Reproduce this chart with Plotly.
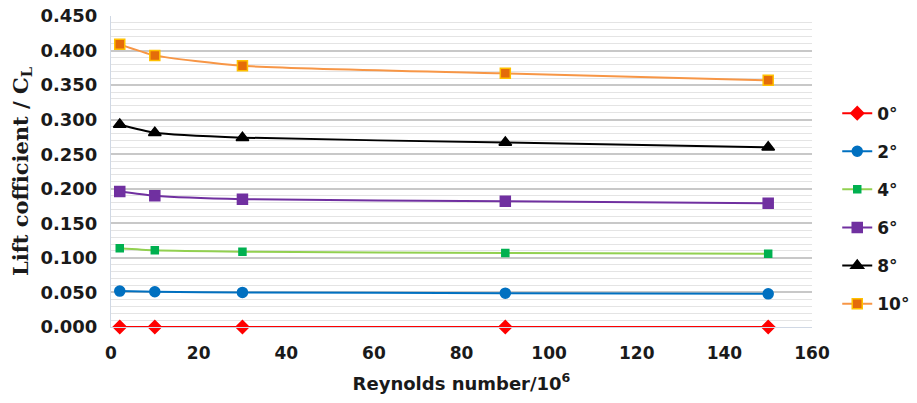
import plotly.graph_objects as go

reynolds = [2, 10, 30, 90, 150]
angles = ["0°", "2°", "4°", "6°", "8°", "10°"]
cl_0 = [0.000, 0.000, 0.000, 0.000, 0.000]
cl_2 = [0.052, 0.051, 0.050, 0.049, 0.048]
cl_4 = [0.114, 0.111, 0.109, 0.107, 0.106]
cl_6 = [0.196, 0.190, 0.185, 0.182, 0.179]
cl_8 = [0.293, 0.281, 0.274, 0.267, 0.260]
cl_10 = [0.409, 0.393, 0.378, 0.367, 0.357]
y_ticks = [0.0, 0.05, 0.1, 0.15, 0.2, 0.25, 0.3, 0.35, 0.4, 0.45]
x_ticks = [0, 20, 40, 60, 80, 100, 120, 140, 160]

series = [cl_0, cl_2, cl_4, cl_6, cl_8, cl_10]
styles = [
    dict(line="#FF0000", marker="#FF0000", symbol="diamond", size=10, mline="#FF0000"),
    dict(line="#0070C0", marker="#0070C0", symbol="circle", size=10, mline="#0070C0"),
    dict(line="#92D050", marker="#00B050", symbol="square", size=7, mline="#00B050"),
    dict(line="#7030A0", marker="#7030A0", symbol="square", size=10, mline="#7030A0"),
    dict(line="#000000", marker="#000000", symbol="triangle-up", size=11, mline="#000000"),
    dict(line="#F79646", marker="#E46C0A", symbol="square", size=10, mline="#FFC000"),
]

fig = go.Figure()
for name, vals, st in zip(angles, series, styles):
    fig.add_trace(go.Scatter(
        x=reynolds, y=vals, name=name, mode="lines+markers",
        line=dict(color=st["line"], width=2, shape="spline", smoothing=0.6),
        marker=dict(color=st["marker"], symbol=st["symbol"], size=st["size"],
                    line=dict(color=st["mline"], width=1.5)),
        legendgroup=name, cliponaxis=False,
    ))

fnt = "DejaVu Sans"
dark = "#1a1a1a"
fig.update_layout(
    width=917, height=403,
    margin=dict(l=111, r=105, t=16, b=76, autoexpand=False),
    plot_bgcolor="white", paper_bgcolor="white",
    showlegend=True,
    legend=dict(
        x=1.036, xanchor="left", y=0.744, yanchor="top",
        font=dict(family=fnt, size=17, color=dark, weight="bold"),
        traceorder="grouped", tracegroupgap=13, itemwidth=30,
        bgcolor="rgba(0,0,0,0)",
    ),
    xaxis=dict(
        range=[0, 160], tickvals=x_ticks, showgrid=False, zeroline=False,
        showline=True, linecolor="#D0D8E4", linewidth=1, automargin=False,
        tickfont=dict(family=fnt, size=17, color=dark, weight="bold"),
        ticks="", ticklen=0, ticklabelstandoff=11, ticklabeloverflow="allow",
        title=dict(text="Reynolds number/10<sup>6</sup>",
                   font=dict(family=fnt, size=18, color=dark, weight="bold"),
                   standoff=14),
    ),
    yaxis=dict(
        range=[0, 0.45], tickvals=y_ticks, tickformat=".3f",
        showgrid=True, gridcolor="#C8C8C8", gridwidth=1.5, zeroline=False,
        showline=True, linecolor="#D0D8E4", linewidth=1, automargin=False,
        minor=dict(dtick=0.01, showgrid=True, gridcolor="#E4E4E4", gridwidth=1),
        tickfont=dict(family=fnt, size=18, color=dark, weight="bold"),
        ticks="", ticklen=0, ticklabelstandoff=9, ticklabeloverflow="allow",
        title=dict(text="Lift cofficient / C<sub>L</sub>",
                   font=dict(family="DejaVu Serif", size=21, color=dark, weight="bold"),
                   standoff=6),
    ),
)

# remove the default 8px page margin so the figure fills the window exactly
fig.write_html("out.html", config={"displayModeBar": False},
               post_script="document.body.style.margin='0';")
